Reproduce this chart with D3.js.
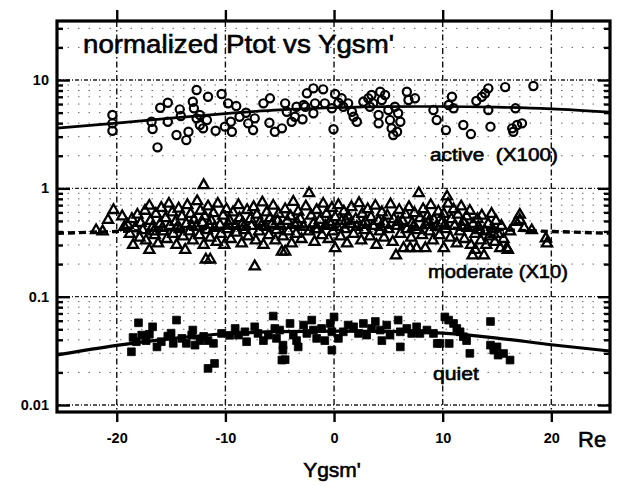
<!DOCTYPE html>
<html><head><meta charset="utf-8">
<script src="https://cdn.jsdelivr.net/npm/d3@7"></script>
<style>
body{margin:0;background:#fff}
svg{display:block}
text{font-family:"Liberation Sans",Arial,Helvetica,sans-serif;fill:#000}
</style>
</head><body>
<svg id="chart" width="618" height="486"></svg>
<script>
// Axis ticks
const xTicks = [-20, -10, 0, 10, 20];
const yTickValues = [10, 1, 0.1, 0.01];
const yTickLabels = ["10", "1", "0.1", "0.01"];

// Active storms (scaled x100): [Ygsm', Ptot]
const activePts = [
[-20.4,4.75],[-20.4,3.98],[-20.4,3.40],[-16.8,4.12],[-16.7,3.53],[-16.25,2.39],[-16.0,5.55],[-15.3,6.17],[-15.3,4.12],
[-14.5,3.11],[-14.2,5.36],[-14.1,4.65],[-13.6,2.79],[-13.4,3.33],[-13.0,6.30],[-12.9,5.48],[-12.65,8.09],[-12.35,4.75],
[-12.35,3.84],[-12.05,3.58],[-11.7,4.27],[-11.6,7.01],[-12.65,4.43],[-10.9,3.40],[-10.35,7.43],[-10.05,3.71],[-9.75,6.09],
[-9.5,4.12],[-9.4,3.33],[-9.0,5.75],[-8.7,4.58],[-8.1,4.99],[-7.9,3.98],[-7.45,3.45],[-7.3,4.43],[-5.95,4.03],[-5.9,6.78],
[-6.5,6.09],[-5.45,3.33],[-4.8,3.58],[-4.5,6.09],[-4.35,5.10],[-3.9,4.12],[-3.6,4.58],[-3.45,5.67],[-2.9,4.34],[-2.65,5.67],
[-2.5,7.54],[-1.9,8.38],[-1.9,4.93],[-1.75,6.09],[-2.8,5.88],[-1.0,8.2],[-0.85,6.09],[-0.2,5.48],[-0.05,3.51],[0.1,7.43],
[0.4,6.17],[0.7,6.78],[0.85,5.67],[1.3,6.09],[1.65,5.10],[1.8,4.58],[2.1,4.12],[2.7,6.30],[3.15,6.78],[3.45,7.27],[3.3,5.67],
[3.6,6.09],[4.1,4.75],[4.25,7.80],[4.4,6.54],[4.1,3.98],[4.7,7.27],[5.0,5.28],[5.15,4.27],[5.3,3.58],[5.45,3.11],[5.8,3.33],
[5.9,4.93],[6.1,4.12],[5.6,5.67],[6.7,7.80],[6.85,6.54],[7.45,6.78],[9.15,5.28],[9.45,4.27],[10.3,3.45],[10.55,5.88],
[10.85,7.01],[11.0,5.48],[11.9,3.84],[12.6,3.17],[13.1,6.4],[13.6,7.01],[13.9,7.54],[14.2,8.38],[14.2,5.28],[14.4,3.71],
[15.75,8.6],[16.7,5.48],[16.4,3.58],[16.5,3.33],[16.85,3.84],[17.3,3.98],[18.35,8.80]
];

// Moderate storms (scaled x10)
const moderatePts = [
[-21.9,0.41],[-21.3,0.40],[-20.8,0.51],[-20.3,0.63],[-19.5,0.55],[-19.3,0.44],
[-19.0,0.46],[-18.8,0.38],[-18.6,0.52],[-18.5,0.30],[-18.3,0.43],[-18.1,0.57],[-17.9,0.35],[-17.8,0.48],[-17.6,0.41],[-17.4,0.62],
[-17.3,0.33],[-17.0,0.69],[-17.0,0.27],[-16.9,0.50],[-16.7,0.44],[-16.5,0.37],[-16.4,0.58],[-16.2,0.31],[-16.0,0.47],[-15.9,0.66],
[-15.7,0.40],[-15.5,0.53],[-15.4,0.34],[-15.2,0.72],[-15.1,0.45],[-14.9,0.60],[-14.8,0.38],[-14.6,0.49],[-14.5,0.30],[-14.3,0.65],
[-14.2,0.42],[-14.0,0.55],[-13.9,0.36],[-13.7,0.27],[-13.6,0.47],[-13.5,0.70],[-13.3,0.40],[-13.2,0.58],[-13.0,0.33],[-12.9,0.51],
[-12.7,0.44],[-12.6,0.76],[-12.4,0.37],[-12.3,0.62],[-12.1,0.48],[-12.0,1.07],[-12.0,0.30],[-11.9,0.55],[-11.8,0.22],[-11.7,0.41],
[-11.6,0.68],[-11.4,0.22],[-11.4,0.35],[-11.3,0.50],[-11.1,0.59],[-11.0,0.43],[-10.8,0.32],[-10.7,0.72],[-10.5,0.46],[-10.4,0.38],
[-10.2,0.56],[-10.1,0.30],[-9.9,0.64],[-9.8,0.42],[-9.6,0.50],[-9.5,0.34],[-9.3,0.60],[-9.1,0.45],[-9.0,0.39],[-8.8,0.70],
[-8.7,0.53],[-8.5,0.31],[-8.4,0.48],[-8.2,0.41],[-8.0,0.63],[-7.9,0.36],[-7.7,0.52],[-7.6,0.45],[-7.4,0.67],[-7.3,0.19],
[-7.2,0.33],[-7.1,0.57],[-6.9,0.40],[-6.8,0.49],[-6.6,0.74],[-6.5,0.30],[-6.3,0.44],[-6.2,0.60],[-6.0,0.37],[-5.9,0.53],
[-5.7,0.47],[-5.6,0.69],[-5.4,0.33],[-5.3,0.41],[-5.1,0.58],[-4.9,0.45],[-4.8,0.26],[-4.7,0.36],[-4.5,0.26],[-4.5,0.64],
[-4.3,0.50],[-4.2,0.40],[-4.0,0.55],[-3.9,0.31],[-3.75,0.75],[-3.6,0.46],[-3.5,0.38],[-3.3,0.61],[-3.1,0.52],[-3.0,0.34],
[-2.8,0.44],[-2.6,0.68],[-2.3,0.90],[-2.3,0.40],[-2.1,0.56],[-1.9,0.47],[-1.8,0.32],[-1.6,0.63],[-1.5,0.42],[-1.3,0.51],
[-1.1,0.37],[-1.0,0.72],[-0.8,0.45],[-0.7,0.58],[-0.5,0.34],[-0.4,0.49],[-0.2,0.66],[-0.1,0.40],[0.1,0.28],[0.1,0.54],
[0.3,0.44],[0.4,0.70],[0.6,0.36],[0.7,0.50],[0.9,0.61],[1.0,0.42],[1.2,0.31],[1.3,0.55],[1.5,0.47],[1.6,0.67],
[1.8,0.38],[2.0,0.52],[2.1,0.44],[2.3,0.73],[2.5,0.33],[2.6,0.58],[2.8,0.41],[2.9,0.49],[3.1,0.64],[3.3,0.36],
[3.4,0.54],[3.6,0.45],[3.8,0.69],[3.9,0.30],[4.1,0.50],[4.2,0.40],[4.4,0.60],[4.6,0.35],[4.7,0.47],[4.9,0.56],
[5.0,0.42],[5.2,0.71],[5.4,0.32],[5.5,0.52],[5.7,0.24],[5.8,0.45],[6.0,0.63],[6.1,0.38],[6.3,0.50],[6.4,0.28],
[6.6,0.57],[6.7,0.42],[6.9,0.67],[7.0,0.28],[7.1,0.35],[7.2,0.48],[7.4,0.59],[7.6,0.28],[7.6,0.41],[7.8,0.90],
[7.9,0.53],[8.1,0.37],[8.2,0.64],[8.4,0.28],[8.4,0.46],[8.6,0.55],[8.8,0.40],[8.9,0.70],[9.1,0.33],[9.2,0.51],
[9.4,0.44],[9.6,0.61],[9.7,0.37],[9.9,0.48],[10.1,0.28],[10.1,0.58],[10.3,0.42],[10.4,0.84],[10.5,0.72],[10.7,0.35],
[10.8,0.52],[11.0,0.64],[11.1,0.45],[11.3,0.31],[11.4,0.57],[11.6,0.40],[11.7,0.68],[11.9,0.49],[12.0,0.34],[12.2,0.55],
[12.3,0.43],[12.5,0.62],[12.6,0.30],[12.75,0.24],[12.8,0.47],[13.0,0.27],[13.0,0.38],[13.2,0.52],[13.3,0.44],[13.5,0.33],
[13.6,0.56],[13.8,0.24],[13.9,0.40],[14.0,0.30],[14.2,0.47],[14.3,0.36],[14.5,0.58],[14.6,0.42],[14.8,0.32],[14.9,0.50],
[15.1,0.38],[15.3,0.28],[15.4,0.45],[15.6,0.34],[15.9,0.28],[16.0,0.27],[16.2,0.40],[16.75,0.49],[17.1,0.51],[17.1,0.57],
[17.5,0.43],[18.2,0.41],[19.5,0.345],[19.6,0.31],
[-16.6,0.40],[-15.8,0.43],[-14.4,0.44],[-13.1,0.45],[-11.5,0.46],[-9.7,0.46],[-8.3,0.44],[-6.7,0.45],[-5.2,0.50],[-3.4,0.48],
[-1.7,0.42],[-0.3,0.46],[1.1,0.50],[2.7,0.46],[4.3,0.44],[5.9,0.49],[7.3,0.44],[8.7,0.49],[10.2,0.46],[11.8,0.44],[13.4,0.41],[14.7,0.38]
];

// Quiet conditions
const quietPts = [
[-18.65,0.031],[-18.5,0.042],[-18.2,0.0384],[-18.0,0.0574],[-17.7,0.0442],[-17.3,0.0393],[-17.0,0.045],[-16.7,0.0527],
[-16.3,0.0344],[-15.9,0.0384],[-15.3,0.0432],[-15.0,0.046],[-14.8,0.0371],[-14.5,0.0608],[-14.0,0.0412],[-13.6,0.0371],
[-13.1,0.0442],[-13.0,0.0492],[-12.8,0.0357],[-12.35,0.0393],[-12.0,0.043],[-11.6,0.0393],[-11.1,0.0371],[-11.6,0.0218],
[-11.0,0.0242],[-10.35,0.0458],[-9.6,0.044],[-9.1,0.0509],[-8.8,0.0442],[-8.2,0.0474],[-8.05,0.0384],[-7.3,0.0527],
[-7.0,0.0458],[-6.5,0.0393],[-6.05,0.0442],[-5.6,0.0662],[-5.45,0.0509],[-5.3,0.0412],[-5.0,0.0492],[-4.7,0.0357],
[-4.7,0.0321],[-4.8,0.026],[-4.5,0.0262],[-4.05,0.0566],[-3.75,0.0442],[-3.45,0.0393],[-3.3,0.0344],[-2.8,0.0547],
[-2.5,0.0458],[-2.05,0.0608],[-1.9,0.0492],[-1.6,0.0412],[-1.15,0.0509],[-0.85,0.0393],[-0.35,0.0566],[-0.2,0.0474],
[-0.2,0.0321],[0.0,0.065],[0.4,0.0412],[0.85,0.0474],[1.3,0.0547],[1.8,0.0527],[2.25,0.0458],[2.7,0.0566],
[3.0,0.0442],[3.45,0.0509],[3.8,0.059],[4.25,0.0492],[4.4,0.0393],[4.85,0.0547],[5.15,0.0442],[5.9,0.0608],
[6.1,0.0474],[6.1,0.0344],[6.7,0.0509],[7.15,0.0458],[7.6,0.0527],[7.9,0.0458],[8.55,0.0492],[9.15,0.0458],
[9.5,0.037],[9.75,0.0371],[10.2,0.065],[10.55,0.0608],[10.6,0.037],[11.0,0.0566],[11.3,0.0509],[11.6,0.0474],
[11.9,0.0427],[12.2,0.0393],[12.5,0.030],[14.4,0.059],[14.4,0.0357],[14.7,0.0321],[15.0,0.0344],[15.1,0.0289],
[15.6,0.0299],[16.2,0.026]
];

// Fitted trend curves
const activeCurveX = [-25.5,-20,-15,-10,-5,0,5,10,15,20,25.4];
const activeCurveY = [3.6,4.0,4.45,4.9,5.3,5.55,5.68,5.7,5.62,5.42,5.05];
const moderateCurveX = [-25.5,-20,-10,0,10,20,25.4];
const moderateCurveY = [0.385,0.40,0.43,0.44,0.43,0.40,0.385];
const quietCurveX = [-25.5,-20,-15,-10,-5,0,5,10,15,20,25.4];
const quietCurveY = [0.029,0.0355,0.041,0.0455,0.0475,0.048,0.0478,0.046,0.0415,0.036,0.0315];

const svg = d3.select("#chart");
const L = 57, R = 610, T = 21, B = 412;
const x = d3.scaleLinear().domain([-25.5, 25.4]).range([L, R]);
const y = d3.scaleLog().domain([0.00862, 35.06]).range([B, T]);

const minorVals = y.ticks().filter(v => v > 0.0095 && !yTickValues.some(t => Math.abs(t - v) / t < 1e-6));

// Grid
const grid = svg.append("g");
grid.selectAll(".gminor").data(minorVals).join("line")
  .attr("x1", L).attr("x2", R).attr("y1", d => y(d)).attr("y2", d => y(d))
  .attr("stroke", "#666").attr("stroke-width", 1).attr("stroke-dasharray", "1.5,9");
grid.selectAll(".gmajor").data(yTickValues).join("line")
  .attr("x1", L).attr("x2", R).attr("y1", d => y(d)).attr("y2", d => y(d))
  .attr("stroke", "#222").attr("stroke-width", 1.3).attr("stroke-dasharray", "4,2,1,2");
grid.selectAll(".gx").data(xTicks).join("line")
  .attr("x1", d => x(d)).attr("x2", d => x(d)).attr("y1", T).attr("y2", B)
  .attr("stroke", "#111").attr("stroke-width", 1.4).attr("stroke-dasharray", "6,3,1.5,3");

// Curves
const curveLine = d3.line().x(d => x(d[0])).y(d => y(d[1])).curve(d3.curveMonotoneX);
const zip = (a, b) => a.map((v, i) => [v, b[i]]);
svg.append("path").attr("d", curveLine(zip(activeCurveX, activeCurveY)))
  .attr("fill", "none").attr("stroke", "#000").attr("stroke-width", 2.6);
svg.append("path").attr("d", curveLine(zip(moderateCurveX, moderateCurveY)))
  .attr("fill", "none").attr("stroke", "#000").attr("stroke-width", 3.4).attr("stroke-dasharray", "7,4");
svg.append("path").attr("d", curveLine(zip(quietCurveX, quietCurveY)))
  .attr("fill", "none").attr("stroke", "#000").attr("stroke-width", 3.2);

// Points
svg.append("g").selectAll("circle").data(activePts).join("circle")
  .attr("cx", d => x(d[0])).attr("cy", d => y(d[1])).attr("r", 4.1)
  .attr("fill", "none").attr("stroke", "#000").attr("stroke-width", 2.2);
const tri = d3.symbol().type(d3.symbolTriangle).size(44);
svg.append("g").selectAll("path").data(moderatePts).join("path")
  .attr("d", tri).attr("transform", d => `translate(${x(d[0])},${y(d[1])})`)
  .attr("fill", "none").attr("stroke", "#000").attr("stroke-width", 2.3);
const sq = d3.symbol().type(d3.symbolSquare).size(60);
svg.append("g").selectAll("path").data(quietPts).join("path")
  .attr("d", sq).attr("transform", d => `translate(${x(d[0])},${y(d[1])})`)
  .attr("fill", "#000").attr("stroke", "#000").attr("stroke-width", 0.8);

// Frame
svg.append("rect").attr("x", L).attr("y", T).attr("width", R - L).attr("height", B - T)
  .attr("fill", "none").attr("stroke", "#000").attr("stroke-width", 3.2);

// Axes
const axB = svg.append("g").attr("transform", `translate(0,${B})`)
  .call(d3.axisBottom(x).tickValues(xTicks).tickSize(10).tickPadding(11).tickFormat(d => String(d)));
const axT = svg.append("g").attr("transform", `translate(0,${T})`)
  .call(d3.axisTop(x).tickValues(xTicks).tickSize(11).tickFormat(""));
const axL = svg.append("g").attr("transform", `translate(${L},0)`)
  .call(d3.axisLeft(y).tickValues(yTickValues).tickSize(-13).tickPadding(8).tickFormat((d, i) => yTickLabels[i]));
const axLm = svg.append("g").attr("transform", `translate(${L},0)`)
  .call(d3.axisLeft(y).tickValues(minorVals).tickSize(-6).tickFormat(""));
const axR = svg.append("g").attr("transform", `translate(${R},0)`)
  .call(d3.axisRight(y).tickValues(yTickValues).tickSize(-12).tickFormat(""));
const axRm = svg.append("g").attr("transform", `translate(${R},0)`)
  .call(d3.axisRight(y).tickValues(minorVals).tickSize(-6).tickFormat(""));
[axB, axT, axL, axLm, axR, axRm].forEach(g => {
  g.select(".domain").remove();
  g.selectAll(".tick line").attr("stroke", "#000").attr("stroke-width", 2.4);
  g.selectAll("text").attr("font-family", "'Liberation Sans',Arial,sans-serif")
    .attr("font-weight", "bold").attr("font-size", 14.5).attr("fill", "#000");
});

// Labels
const heavy = sel => sel.attr("stroke", "#000").attr("stroke-width", 0.6);
heavy(svg.append("text").attr("x", 83).attr("y", 53).attr("font-size", 26)
  .attr("textLength", 311).attr("lengthAdjust", "spacingAndGlyphs").text("normalized Ptot vs Ygsm'"));
heavy(svg.append("text").attr("x", 430).attr("y", 161).attr("font-size", 18).style("white-space", "pre")
  .attr("textLength", 128).attr("lengthAdjust", "spacingAndGlyphs").text("active  (X100)"));
heavy(svg.append("text").attr("x", 428).attr("y", 278).attr("font-size", 19)
  .attr("textLength", 140).attr("lengthAdjust", "spacingAndGlyphs").text("moderate (X10)"));
heavy(svg.append("text").attr("x", 433).attr("y", 380).attr("font-size", 18)
  .attr("textLength", 46).attr("lengthAdjust", "spacingAndGlyphs").text("quiet"));
heavy(svg.append("text").attr("x", 578).attr("y", 447).attr("font-size", 22).text("Re"));
heavy(svg.append("text").attr("x", 332).attr("y", 477).attr("font-size", 21).attr("text-anchor", "middle").text("Ygsm'"));
</script>
</body></html>
